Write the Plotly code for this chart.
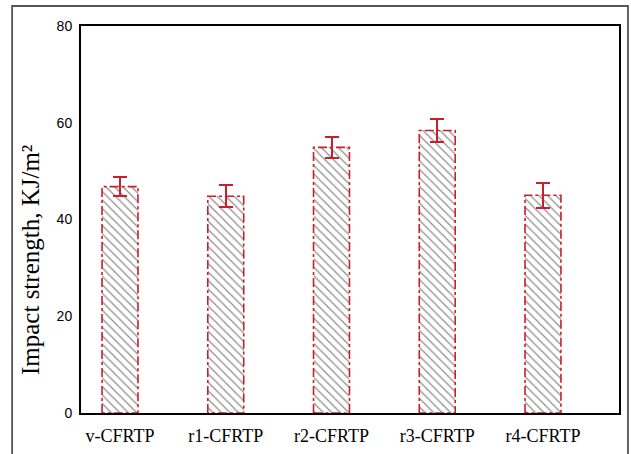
import plotly.graph_objects as go

# Impact strength of the composite series
categories = ["v-CFRTP", "r1-CFRTP", "r2-CFRTP", "r3-CFRTP", "r4-CFRTP"]
strength = [46.8, 44.8, 54.9, 58.4, 45.0]
error = [1.9, 2.3, 2.2, 2.3, 2.6]
y_ticks = [0, 20, 40, 60, 80]

positions = list(range(len(categories)))
bar_width = 0.34

fig = go.Figure()

fig.add_trace(go.Bar(
    x=positions,
    y=strength,
    width=bar_width,
    marker=dict(
        color="white",
        line=dict(width=0),
        pattern=dict(shape="\\", fgcolor="#1a1a1a", bgcolor="white",
                     size=6, solidity=0.2),
    ),
    error_y=dict(type="data", array=error, color="#c8202a",
                 thickness=2, width=7),
    showlegend=False,
))

# dash-dot red outline around each bar
for xi, yi in zip(positions, strength):
    x0, x1 = xi - bar_width / 2, xi + bar_width / 2
    fig.add_trace(go.Scatter(
        x=[x0, x0, x1, x1, x0],
        y=[0, yi, yi, 0, 0],
        mode="lines",
        line=dict(color="#c8202a", width=1.6, dash="dashdot"),
        hoverinfo="skip",
        showlegend=False,
    ))

# outer border of the figure
fig.add_shape(type="rect", xref="paper", yref="paper",
              x0=-0.128, x1=1.0167, y0=-0.12, y1=1.0517,
              line=dict(color="#555555", width=1.8), layer="below")

# y-axis title, placed slightly below the axis midpoint
fig.add_annotation(
    text="Impact strength, KJ/m²",
    xref="paper", yref="paper",
    x=-0.095, y=0.395,
    xanchor="center", yanchor="middle",
    textangle=-90, showarrow=False,
    font=dict(family="Liberation Serif, Times New Roman, serif",
              size=25, color="black"),
)

fig.update_layout(
    width=631, height=454,
    margin=dict(l=81, r=12, t=26, b=41, autoexpand=False),
    paper_bgcolor="white",
    plot_bgcolor="white",
    bargap=0,
    xaxis=dict(
        range=[-0.369, 4.719],
        tickmode="array",
        tickvals=positions,
        ticktext=categories,
        ticks="",
        ticklabelstandoff=5,
        automargin=False,
        showgrid=False,
        zeroline=False,
        showline=True, linecolor="black", linewidth=2, mirror=True,
        tickfont=dict(family="Liberation Serif, Times New Roman, serif",
                      size=18, color="black"),
    ),
    yaxis=dict(
        range=[0, 80],
        tickmode="array",
        tickvals=y_ticks,
        ticks="",
        ticklabelstandoff=4,
        automargin=False,
        showgrid=False,
        zeroline=False,
        showline=True, linecolor="black", linewidth=2, mirror=True,
        tickfont=dict(family="Liberation Sans, Arial, sans-serif",
                      size=14, color="black"),
    ),
)

fig.write_html("out.html")
